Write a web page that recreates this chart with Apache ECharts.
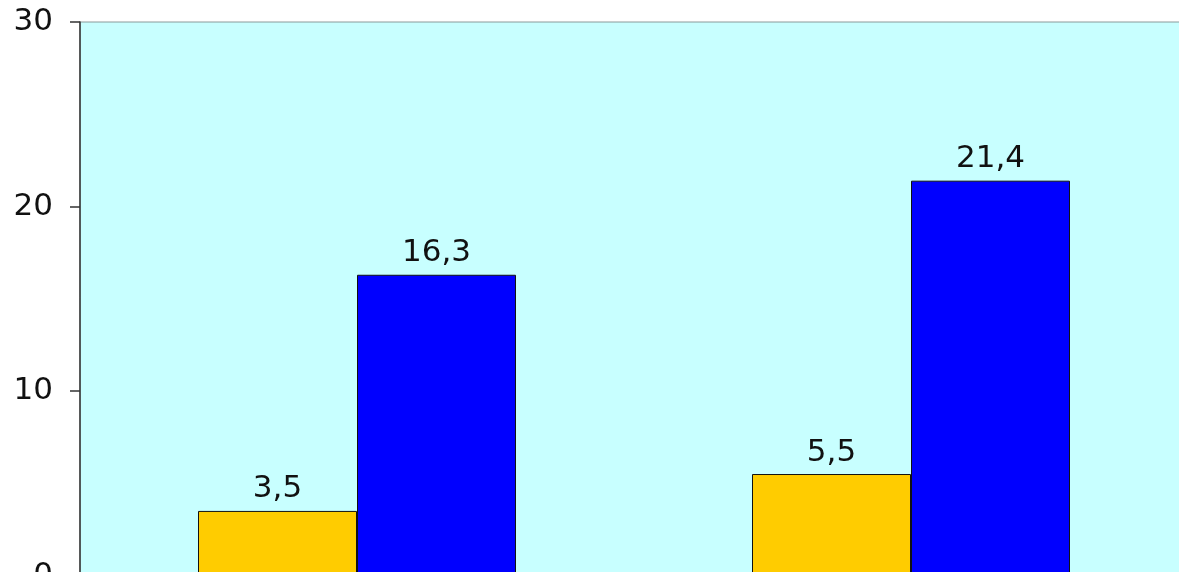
<!DOCTYPE html>
<html>
<head>
<meta charset="utf-8">
<script src="https://cdn.jsdelivr.net/npm/echarts@6/dist/echarts.min.js"></script>
<style>html,body{margin:0;padding:0;background:#fff;}#c{width:1179px;height:572px;}</style>
</head>
<body>
<div id="c"></div>
<script>
const categories = ['Group 1', 'Group 2'];
const seriesYellow = [3.5, 5.5];
const seriesBlue = [16.3, 21.4];
const yTicks = [0, 10, 20, 30];

const fmt = p => String(p.value).replace('.', ',');
const chart = echarts.init(document.getElementById('c'));
chart.setOption({
  animation: false,
  grid: {
    left: 80, top: 22, width: 1108, height: 553.5,
    outerBoundsMode: 'none', containLabel: false,
    show: true, backgroundColor: '#C8FFFF', borderColor: '#8a9a9a', borderWidth: 1
  },
  xAxis: {
    type: 'category', data: categories,
    axisLine: { show: false }, axisTick: { show: false }, axisLabel: { show: false }
  },
  yAxis: {
    type: 'value', min: yTicks[0], max: yTicks[yTicks.length - 1], interval: 10,
    axisLine: { show: true, lineStyle: { color: '#333', width: 1.5 } },
    axisTick: { show: true, length: 10, lineStyle: { color: '#333', width: 1.5 } },
    splitLine: { show: false },
    axisLabel: { color: '#111', fontFamily: 'DejaVu Sans', fontSize: 31, margin: 27, padding: [4, 0, 0, 0] }
  },
  series: [
    {
      type: 'bar', name: 'A', data: seriesYellow, barGap: '0%', barCategoryGap: '42.6%',
      itemStyle: { color: '#FFCC00', borderColor: '#111', borderWidth: 1 },
      label: { show: true, position: 'top', distance: 6, formatter: fmt, color: '#111', fontFamily: 'DejaVu Sans', fontSize: 31 }
    },
    {
      type: 'bar', name: 'B', data: seriesBlue, barGap: '0%', barCategoryGap: '42.6%',
      itemStyle: { color: '#0000FF', borderColor: '#111', borderWidth: 1 },
      label: { show: true, position: 'top', distance: 6, formatter: fmt, color: '#111', fontFamily: 'DejaVu Sans', fontSize: 31 }
    }
  ]
});
</script>
</body>
</html>
